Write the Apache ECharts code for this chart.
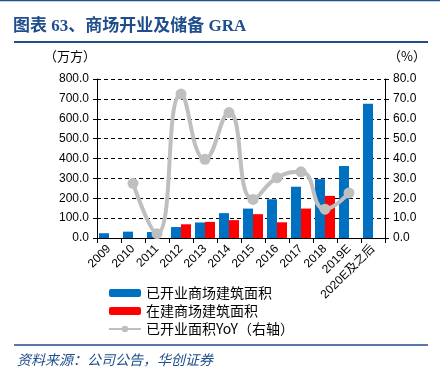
<!DOCTYPE html>
<html><head><meta charset="utf-8">
<script src="https://cdn.jsdelivr.net/npm/echarts@6/dist/echarts.min.js"></script>
<style>html,body{margin:0;padding:0;background:#fff}#c{width:440px;height:378px}</style>
</head><body><div id="c"></div>
<script>
var categories = ['2009','2010','2011','2012','2013','2014','2015','2016','2017','2018','2019E','2020E及之后'];
var openedArea = [24, 32, 30, 55, 78, 125, 148, 195, 258, 296, 362, 675];
var buildingArea = [null, null, null, 69, 81, 90, 120, 79, 148, 212, null, null];
var yoy = [null, 27.5, 2.2, 72.4, 39.6, 63.1, 19.4, 30.3, 33.3, 14.5, 22.7, null];
var leftTicks = {min: 0, max: 800, interval: 100};
var rightTicks = {min: 0, max: 80, interval: 10};

var chart = echarts.init(document.getElementById('c'), null, {renderer: 'canvas'});
var navy = '#1F4E8C';
var cjk = '"Noto Sans CJK SC", sans-serif';
chart.setOption({
  animation: false,
  textStyle: {fontFamily: 'Liberation Sans, Arial, sans-serif'},
  title: [
    {text: '图表 63、商场开业及储备 GRA', left: 13, top: 18, padding: 0,
     textStyle: {fontFamily: '"Liberation Serif", "Noto Sans CJK SC", serif', fontWeight: 'bold', fontSize: 17, color: navy}},
    {text: '（万方）', left: 44, top: 50, padding: 0, textStyle: {fontFamily: cjk, fontWeight: 'normal', fontSize: 13, color: '#000'}},
    {text: '（%）', left: 388, top: 50, padding: 0, textStyle: {fontFamily: cjk, fontWeight: 'normal', fontSize: 13, color: '#000'}},
    {text: '资料来源：公司公告，华创证券', left: 17, top: 353, padding: 0,
     textStyle: {fontFamily: cjk, fontWeight: 'normal', fontStyle: 'italic', fontSize: 14, color: navy}}
  ],
  graphic: [
    {type: 'line', shape: {x1: 0, y1: 0.5, x2: 440, y2: 0.5}, style: {stroke: navy, lineWidth: 1.5}},
    {type: 'line', shape: {x1: 14, y1: 42, x2: 428, y2: 42}, style: {stroke: navy, lineWidth: 2}},
    {type: 'line', shape: {x1: 14, y1: 345, x2: 428, y2: 345}, style: {stroke: navy, lineWidth: 1.5}}
  ],
  grid: {left: 97, right: 55, top: 79, bottom: 140},
  legend: {
    orient: 'vertical', left: 108, top: 286, padding: 0, itemWidth: 32, itemHeight: 8, itemGap: 4,
    textStyle: {fontFamily: cjk, fontSize: 14, color: '#000'},
    data: ['已开业商场建筑面积', '在建商场建筑面积', '已开业面积YoY（右轴）']
  },
  xAxis: {
    type: 'category', data: categories,
    axisLine: {lineStyle: {color: '#000'}},
    axisTick: {show: true, length: 5, lineStyle: {color: '#000'}},
    axisLabel: {rotate: 45, fontSize: 12, color: '#000', margin: 9, interval: 0,
      fontFamily: 'Liberation Sans, "Noto Sans CJK SC", sans-serif'}
  },
  yAxis: [
    {type: 'value', min: leftTicks.min, max: leftTicks.max, interval: leftTicks.interval,
     axisLine: {show: true, lineStyle: {color: '#000'}},
     axisTick: {show: true, length: 4, lineStyle: {color: '#000'}},
     axisLabel: {fontSize: 12, color: '#000', margin: 8, formatter: function (v) { return v.toFixed(1); }},
     splitLine: {show: true, lineStyle: {color: '#000', type: [4, 3], width: 1}}},
    {type: 'value', min: rightTicks.min, max: rightTicks.max, interval: rightTicks.interval,
     axisLine: {show: true, lineStyle: {color: '#000'}},
     axisTick: {show: true, length: 4, lineStyle: {color: '#000'}},
     axisLabel: {fontSize: 12, color: '#000', margin: 8, formatter: function (v) { return v.toFixed(1); }},
     splitLine: {show: false}}
  ],
  series: [
    {name: '已开业商场建筑面积', type: 'bar', data: openedArea, barWidth: 10, barGap: '0%',
     itemStyle: {color: '#0070C0'}},
    {name: '在建商场建筑面积', type: 'bar', data: buildingArea, barWidth: 10,
     itemStyle: {color: '#FF0000'}},
    {name: '已开业面积YoY（右轴）', type: 'line', yAxisIndex: 1, data: yoy, smooth: true,
     symbol: 'circle', symbolSize: 11, showSymbol: true,
     lineStyle: {color: '#BFBFBF', width: 4}, itemStyle: {color: '#BFBFBF'}}
  ]
});
</script></body></html>
